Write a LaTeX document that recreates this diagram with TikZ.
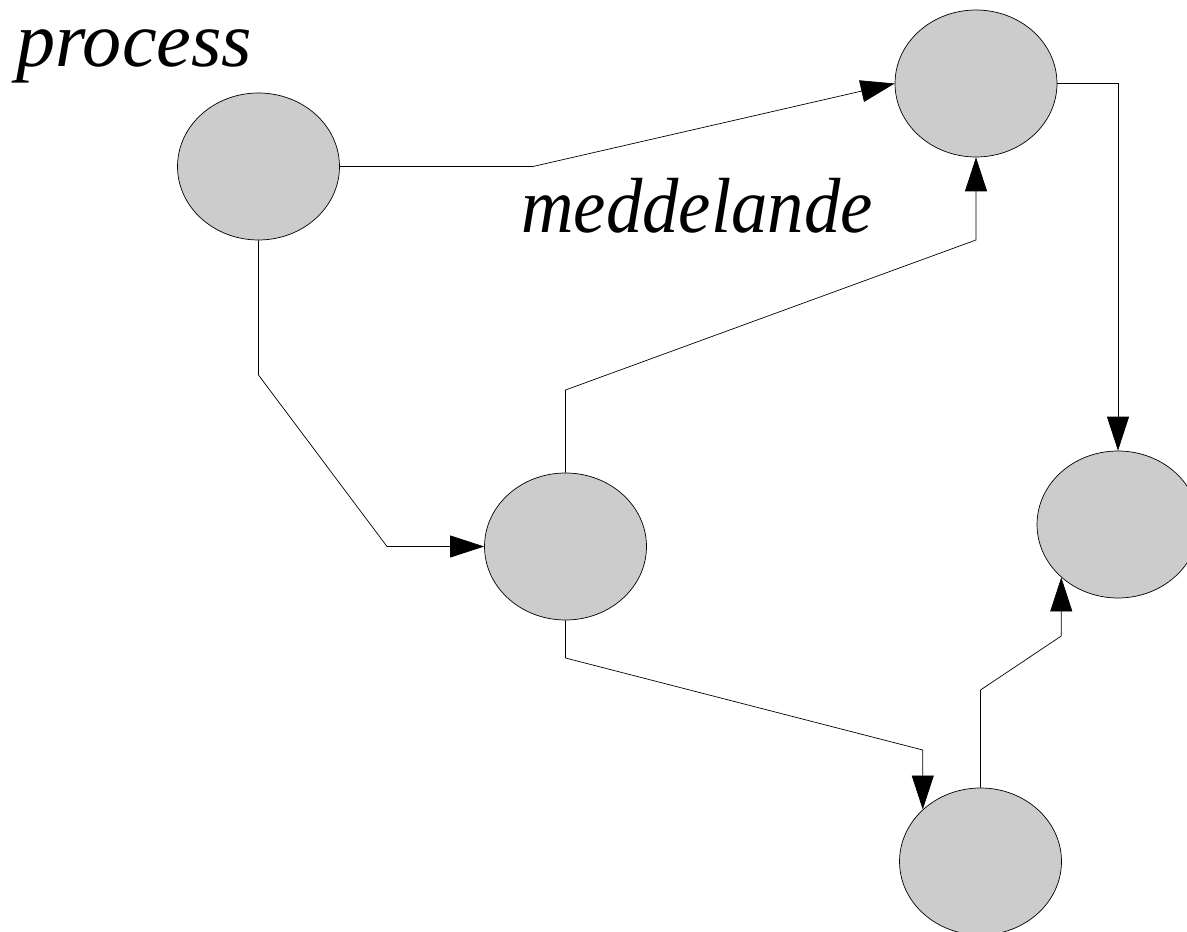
\documentclass[tikz,border=0pt]{standalone}
\usepackage{fontspec}
\setmainfont{Liberation Serif}
\usetikzlibrary{shapes.geometric,arrows.meta}
\definecolor{procgray}{HTML}{CCCCCC}
\tikzset{
->,
>={Triangle[length=0.68cm,width=0.44cm]},
line width=0.6pt,
proc/.style={ellipse, draw, fill=procgray, minimum width=3.24cm, minimum height=2.94cm, inner sep=0pt},
lbl/.style={font=\fontsize{44.5}{52}\selectfont\itshape, inner sep=0pt, anchor=base west},
}

\begin{document}
\begin{tikzpicture}[x=0.02cm,y=-0.02cm]
        \useasboundingbox (0,0) rectangle (1187,932);
        \clip (0,0) rectangle (1187,932);

        \node[proc] (p0) at (258.5,166.5) {};
        \node[proc] (p1) at (976,83.5) {};
        \node[proc] (p2) at (565.5,546.5) {};
        \node[proc] (p3) at (1118,524.5) {};
        \node[proc] (p4) at (980.5,861.5) {};

        \node[lbl] (proclabel) at (16,67) {process};
        \node[lbl,xscale=0.93,transform shape] (msglabel) at (521,233) {meddelande};

        \draw (p0.east) -- (533,166.5) -- (p1.west);
        \draw (p0.south) -- (258.5,375) -- (387,546.5) -- (p2.west);
        \draw (p2.north) -- (565.5,390) -- (976,240) -- (p1.south);
        \draw (p1.east) -| (p3.north);
        \draw (p2.south) -- (565.5,658) -- (p4.138 |- 0,750) -- (p4.138);
        \draw (p4.north) -- (980.5,690) -- (p3.-137.5 |- 0,636) -- (p3.-137.5);
    \end{tikzpicture}
\end{document}
